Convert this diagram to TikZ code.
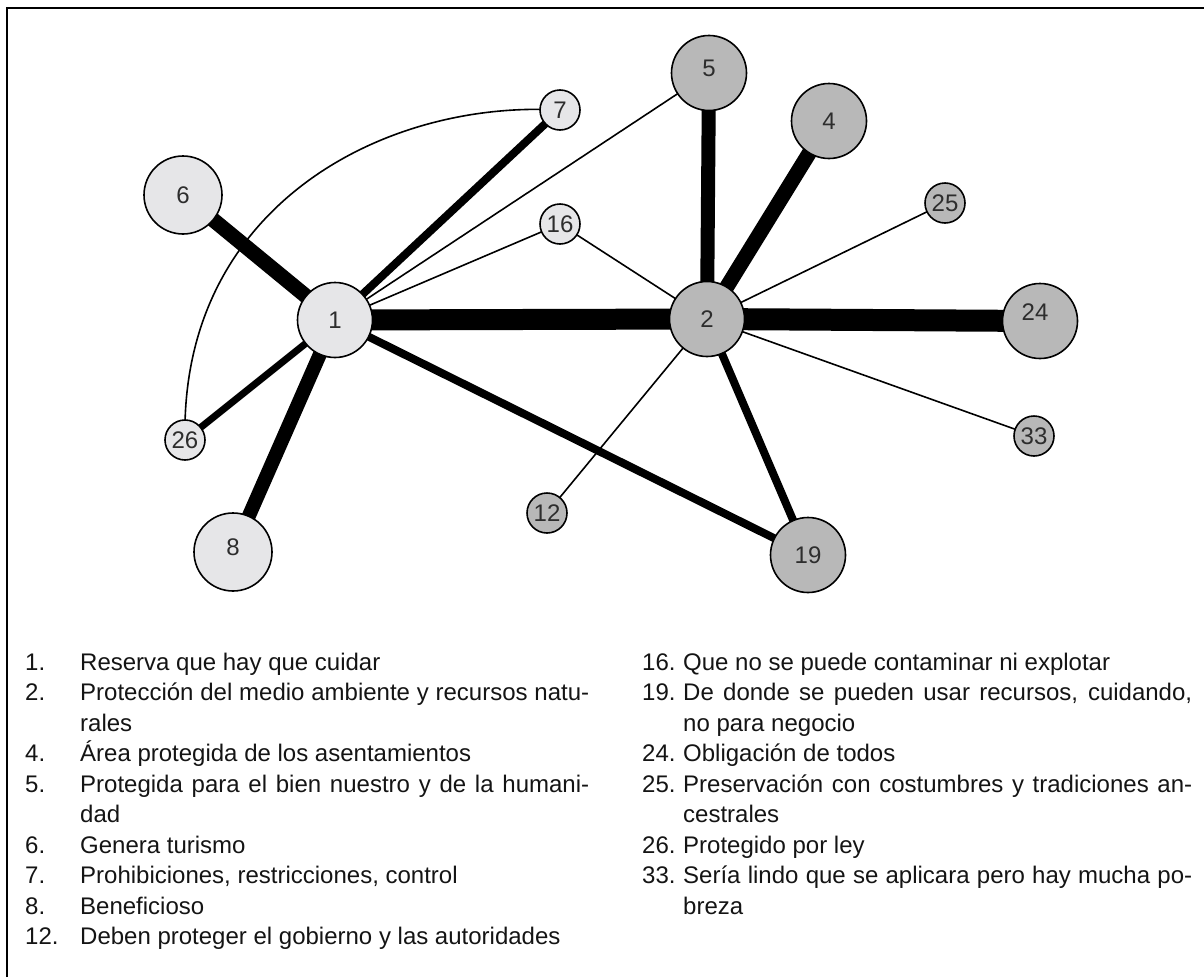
\documentclass[tikz,border=0pt]{standalone}
\usepackage{fontspec}
\setmainfont{Liberation Sans}
\definecolor{lightfill}{RGB}{230,230,232}
\definecolor{darkfill}{RGB}{184,184,184}
\definecolor{numgray}{RGB}{45,45,45}
\definecolor{inkblack}{RGB}{20,20,20}
\pgfdeclarelayer{background}
\pgfsetlayers{background,main}
\begin{document}
\begin{tikzpicture}[x=1pt,y=-1pt,
  circ/.style={circle, draw=black, line width=1.6pt, inner sep=0pt},
  lightnode/.style={circ, fill=lightfill},
  darknode/.style={circ, fill=darkfill},
  bignode/.style={minimum size=75pt},
  smallnode/.style={minimum size=40pt},
  numfont/.style={text=numgray, font=\fontsize{24}{28}\selectfont},
  num/.style={label={[numfont]center:#1}},
  link/.style={draw=black, line width=#1},
  thinlink/.style={draw=black, line width=1.6pt},
  legend/.style={font=\fontsize{24}{28}\selectfont, text=inkblack, inner sep=0pt},
  itemtext/.style={legend, anchor=base west},
  itemnum/.style={legend, anchor=base west},
]
\useasboundingbox (0,0) rectangle (1204,977);
% frame
\draw[line width=1.8pt] (7,977) -- (7,8) -- (1204,8);

% concept nodes
\node[lightnode, bignode, num=1]  (n1)  at (335,320) {};
\node[darknode,  bignode, num=2]  (n2)  at (707,319) {};
\node[darknode,  bignode, label={[numfont, yshift=5pt]center:5}] (n5) at (709,73) {};
\node[darknode,  bignode, num=4]  (n4)  at (829,121) {};
\node[lightnode, bignode, minimum size=78pt, num=6] (n6) at (183,195) {};
\node[lightnode, smallnode, num=7]  (n7)  at (560,110) {};
\node[lightnode, smallnode, num=16] (n16) at (560,224) {};
\node[darknode,  smallnode, num=25] (n25) at (945,203) {};
\node[darknode,  bignode, label={[numfont, xshift=-5pt, yshift=9pt]center:24}] (n24) at (1040,321) {};
\node[darknode,  smallnode, num=33] (n33) at (1034,436) {};
\node[lightnode, smallnode, num=26] (n26) at (185,440) {};
\node[lightnode, bignode, minimum size=78pt, label={[numfont, yshift=5pt]center:8}] (n8) at (233,552) {};
\node[darknode,  smallnode, num=12] (n12) at (547,513) {};
\node[darknode,  bignode, num=19] (n19) at (808,555) {};

% links, weighted by strength
\begin{pgfonlayer}{background}
\draw[link=21pt] (n1.center) -- (n2.center);
\draw[link=15pt] (n1.center) -- (n6.center);
\draw[link=8pt]  (n1.center) -- (n7.center);
\draw[thinlink]  (n1.center) -- (n5.center);
\draw[thinlink]  (n1.center) -- (n16.center);
\draw[link=7pt]  (n1.center) -- (n26.center);
\draw[link=14pt] (n1.center) -- (n8.center);
\draw[link=8pt]  (n1.center) -- (n19.center);
\draw[link=14pt] (n2.center) -- (n5.center);
\draw[link=15pt] (n2.center) -- (n4.center);
\draw[thinlink]  (n2.center) -- (n25.center);
\draw[thinlink]  (n2.center) -- (n16.center);
\draw[link=22pt] (n2.center) -- (n24.center);
\draw[thinlink]  (n2.center) -- (n33.center);
\draw[thinlink]  (n2.center) -- (n12.center);
\draw[link=8pt]  (n2.center) -- (n19.center);
\coordinate (c1) at (180,205);
\coordinate (c2) at (385,100);
\draw[thinlink] (n26.center) .. controls (c1) and (c2) .. (n7.center);
\end{pgfonlayer}

% legend, left column
\node[itemnum]  (l1n)  at (25,670)   {1.};
\node[itemtext] (l1t)  at (80,670)   {Reserva que hay que cuidar};
\node[itemnum]  (l2n)  at (25,700.5) {2.};
\node[itemtext] (l2t)  at (80,700.5) {\makebox[509pt][s]{Protección del medio ambiente y recursos natu-}};
\node[itemtext] (l2u)  at (80,731)   {rales};
\node[itemnum]  (l4n)  at (25,761.5) {4.};
\node[itemtext] (l4t)  at (80,761.5) {Área protegida de los asentamientos};
\node[itemnum]  (l5n)  at (25,792)   {5.};
\node[itemtext] (l5t)  at (80,792)   {\makebox[509pt][s]{Protegida para el bien nuestro y de la humani-}};
\node[itemtext] (l5u)  at (80,822.5) {dad};
\node[itemnum]  (l6n)  at (25,853)   {6.};
\node[itemtext] (l6t)  at (80,853)   {Genera turismo};
\node[itemnum]  (l7n)  at (25,883.5) {7.};
\node[itemtext] (l7t)  at (80,883.5) {Prohibiciones, restricciones, control};
\node[itemnum]  (l8n)  at (25,914)   {8.};
\node[itemtext] (l8t)  at (80,914)   {Beneficioso};
\node[itemnum]  (l12n) at (25,944.5) {12.};
\node[itemtext] (l12t) at (80,944.5) {Deben proteger el gobierno y las autoridades};

% legend, right column
\node[itemnum]  (r16n) at (642,670)   {16.};
\node[itemtext] (r16t) at (683,670)   {Que no se puede contaminar ni explotar};
\node[itemnum]  (r19n) at (642,700.5) {19.};
\node[itemtext] (r19t) at (683,700.5) {\makebox[509pt][s]{De donde se pueden usar recursos, cuidando,}};
\node[itemtext] (r19u) at (683,731)   {no para negocio};
\node[itemnum]  (r24n) at (642,761.5) {24.};
\node[itemtext] (r24t) at (683,761.5) {Obligación de todos};
\node[itemnum]  (r25n) at (642,792)   {25.};
\node[itemtext] (r25t) at (683,792)   {\makebox[509pt][s]{Preservación con costumbres y tradiciones an-}};
\node[itemtext] (r25u) at (683,822.5) {cestrales};
\node[itemnum]  (r26n) at (642,853)   {26.};
\node[itemtext] (r26t) at (683,853)   {Protegido por ley};
\node[itemnum]  (r33n) at (642,883.5) {33.};
\node[itemtext] (r33t) at (683,883.5) {\makebox[509pt][s]{Sería lindo que se aplicara pero hay mucha po-}};
\node[itemtext] (r33u) at (683,914)   {breza};
\end{tikzpicture}
\end{document}
